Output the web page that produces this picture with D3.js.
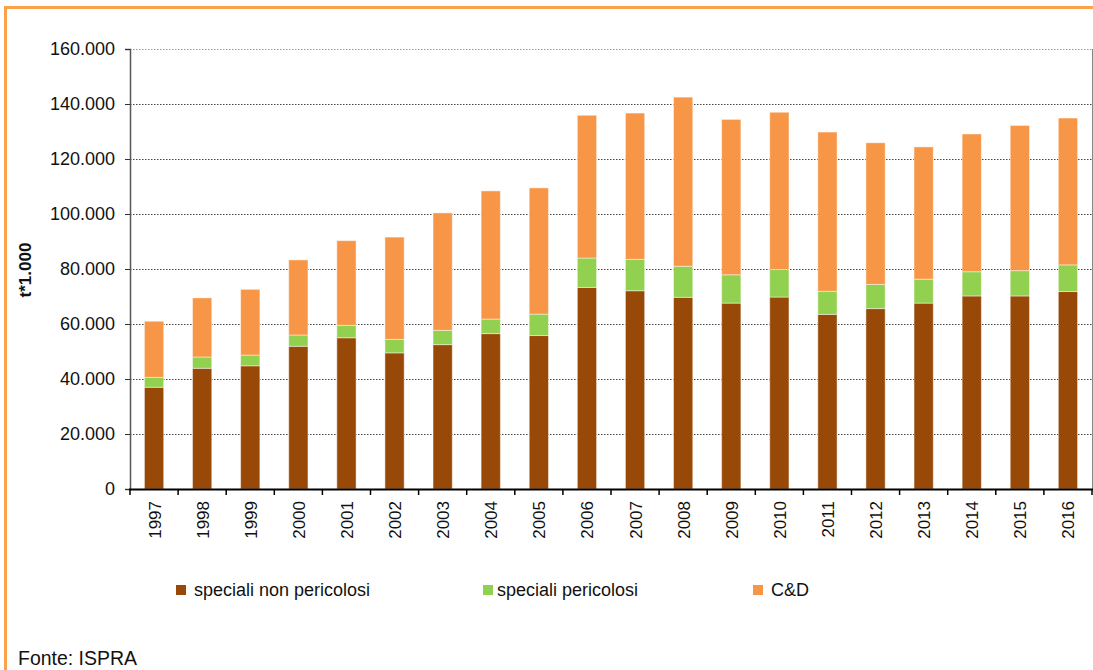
<!DOCTYPE html>
<html>
<head>
<meta charset="utf-8">
<script src="https://cdn.jsdelivr.net/npm/d3@7/dist/d3.min.js"></script>
<style>
  html, body { margin: 0; padding: 0; background: #fff; }
  svg { display: block; font-family: "Liberation Sans", Arial, sans-serif; }
</style>
</head>
<body>
<svg id="chart" width="1093" height="670"></svg>
<script>
const years = ["1997","1998","1999","2000","2001","2002","2003","2004","2005","2006","2007","2008","2009","2010","2011","2012","2013","2014","2015","2016"];
const specialiNonPericolosi = [37000,43900,44800,51900,55000,49500,52500,56500,55800,73300,72100,69700,67600,69800,63500,65600,67600,70200,70200,71800];
const specialiPericolosi    = [3600,4100,3900,4100,4500,4900,5200,5300,7800,10700,11400,11300,10300,10000,8400,8800,8700,8800,9200,9700];
const cd                    = [20400,21500,23900,27300,30800,37200,42700,46600,45900,51900,53200,61500,56500,57200,57900,51500,48100,50100,52800,53400];
const seriesNames = ["speciali non pericolosi","speciali pericolosi","C&D"];
const seriesColors = ["#984807","#92D050","#F79646"];
const yTicks = [0,20000,40000,60000,80000,100000,120000,140000,160000];
const yTitle = "t*1.000";
const source = "Fonte: ISPRA";

(function(){
const svg = d3.select("#chart");
const pLeft = 130, pRight = 1092, pTop = 49, pBottom = 489;

// outer orange frame
svg.append("rect").attr("x",5.5).attr("y",7.5).attr("width",1200).attr("height",800)
  .attr("fill","none").attr("stroke","#FBA24C").attr("stroke-width",3);

const x = d3.scaleBand().domain(years).range([pLeft,pRight]).padding(0);
const y = d3.scaleLinear().domain([0,160000]).range([pBottom,pTop]);
const itFmt = d3.formatLocale({decimal:",", thousands:".", grouping:[3], currency:["€",""]}).format(",d");

// gridlines
svg.append("g").selectAll("line").data(yTicks.filter(d=>d>0)).join("line")
  .attr("x1",pLeft).attr("x2",pRight)
  .attr("y1",d=>Math.round(y(d))+0.5).attr("y2",d=>Math.round(y(d))+0.5)
  .attr("stroke",d=>d===160000?"#9a9a9a":"#444")
  .attr("stroke-width",1).attr("stroke-dasharray","1.5,1.5");

// right plot border
svg.append("line").attr("x1",pRight+0.5).attr("x2",pRight+0.5).attr("y1",pTop).attr("y2",pBottom)
  .attr("stroke","#888").attr("stroke-width",1);

// stacked bars
const rows = years.map((yr,i)=>({year:yr, s0:specialiNonPericolosi[i], s1:specialiPericolosi[i], s2:cd[i]}));
const stack = d3.stack().keys(["s0","s1","s2"])(rows);
const bw = x.bandwidth()*0.4;
svg.append("g").selectAll("g").data(stack).join("g")
  .attr("fill",(d,i)=>seriesColors[i])
  .selectAll("rect").data(d=>d).join("rect")
  .attr("x",d=>x(d.data.year)+(x.bandwidth()-bw)/2)
  .attr("width",bw)
  .attr("y",d=>y(d[1]))
  .attr("height",d=>y(d[0])-y(d[1]))
  .attr("stroke","rgba(255,255,255,0.45)").attr("stroke-width",1);

// y axis
const yAxis = svg.append("g").attr("transform",`translate(${pLeft},0)`)
  .call(d3.axisLeft(y).tickValues(yTicks).tickFormat(itFmt).tickSize(5).tickPadding(10));
yAxis.select(".domain").attr("stroke","#555").attr("stroke-width",1.5);
yAxis.selectAll(".tick line").attr("stroke","#333");
yAxis.selectAll(".tick text").attr("font-size",18).attr("fill","#111")
  .attr("font-family","'Liberation Sans', Arial, sans-serif");

// x axis
const xAxisG = svg.append("g").attr("transform",`translate(0,${pBottom})`);
xAxisG.append("line").attr("x1",pLeft-1).attr("x2",pRight+1).attr("y1",0.5).attr("y2",0.5)
  .attr("stroke","#000").attr("stroke-width",2);
const boundaries = years.map(d=>x(d)).concat([x.range()[1]]);
xAxisG.selectAll("line.tk").data(boundaries).join("line").attr("class","tk")
  .attr("x1",d=>d).attr("x2",d=>d).attr("y1",0).attr("y2",6)
  .attr("stroke","#000").attr("stroke-width",1.5);
xAxisG.selectAll("text").data(years).join("text")
  .attr("transform",d=>`translate(${x(d)+x.bandwidth()/2+6.5},12) rotate(-90)`)
  .attr("text-anchor","end").attr("font-size",17).attr("fill","#111")
  .text(d=>d);

// y title
svg.append("text").attr("transform","translate(31,270) rotate(-90)")
  .attr("text-anchor","middle").attr("font-size",17).attr("font-weight","bold").attr("fill","#111")
  .text(yTitle);

// legend
const legendX = [176,483,753];
const lg = svg.append("g").selectAll("g").data(seriesNames).join("g")
  .attr("transform",(d,i)=>`translate(${legendX[i]},585)`);
lg.append("rect").attr("width",10).attr("height",10).attr("fill",(d,i)=>seriesColors[i]);
lg.append("text").attr("x",(d,i)=>i===1?14:18).attr("y",11).attr("font-size",18).attr("fill","#111").text(d=>d);

// source
svg.append("text").attr("x",18).attr("y",665).attr("font-size",21).attr("fill","#111")
  .attr("textLength",119).attr("lengthAdjust","spacingAndGlyphs").text(source);
})();
</script>
</body>
</html>
